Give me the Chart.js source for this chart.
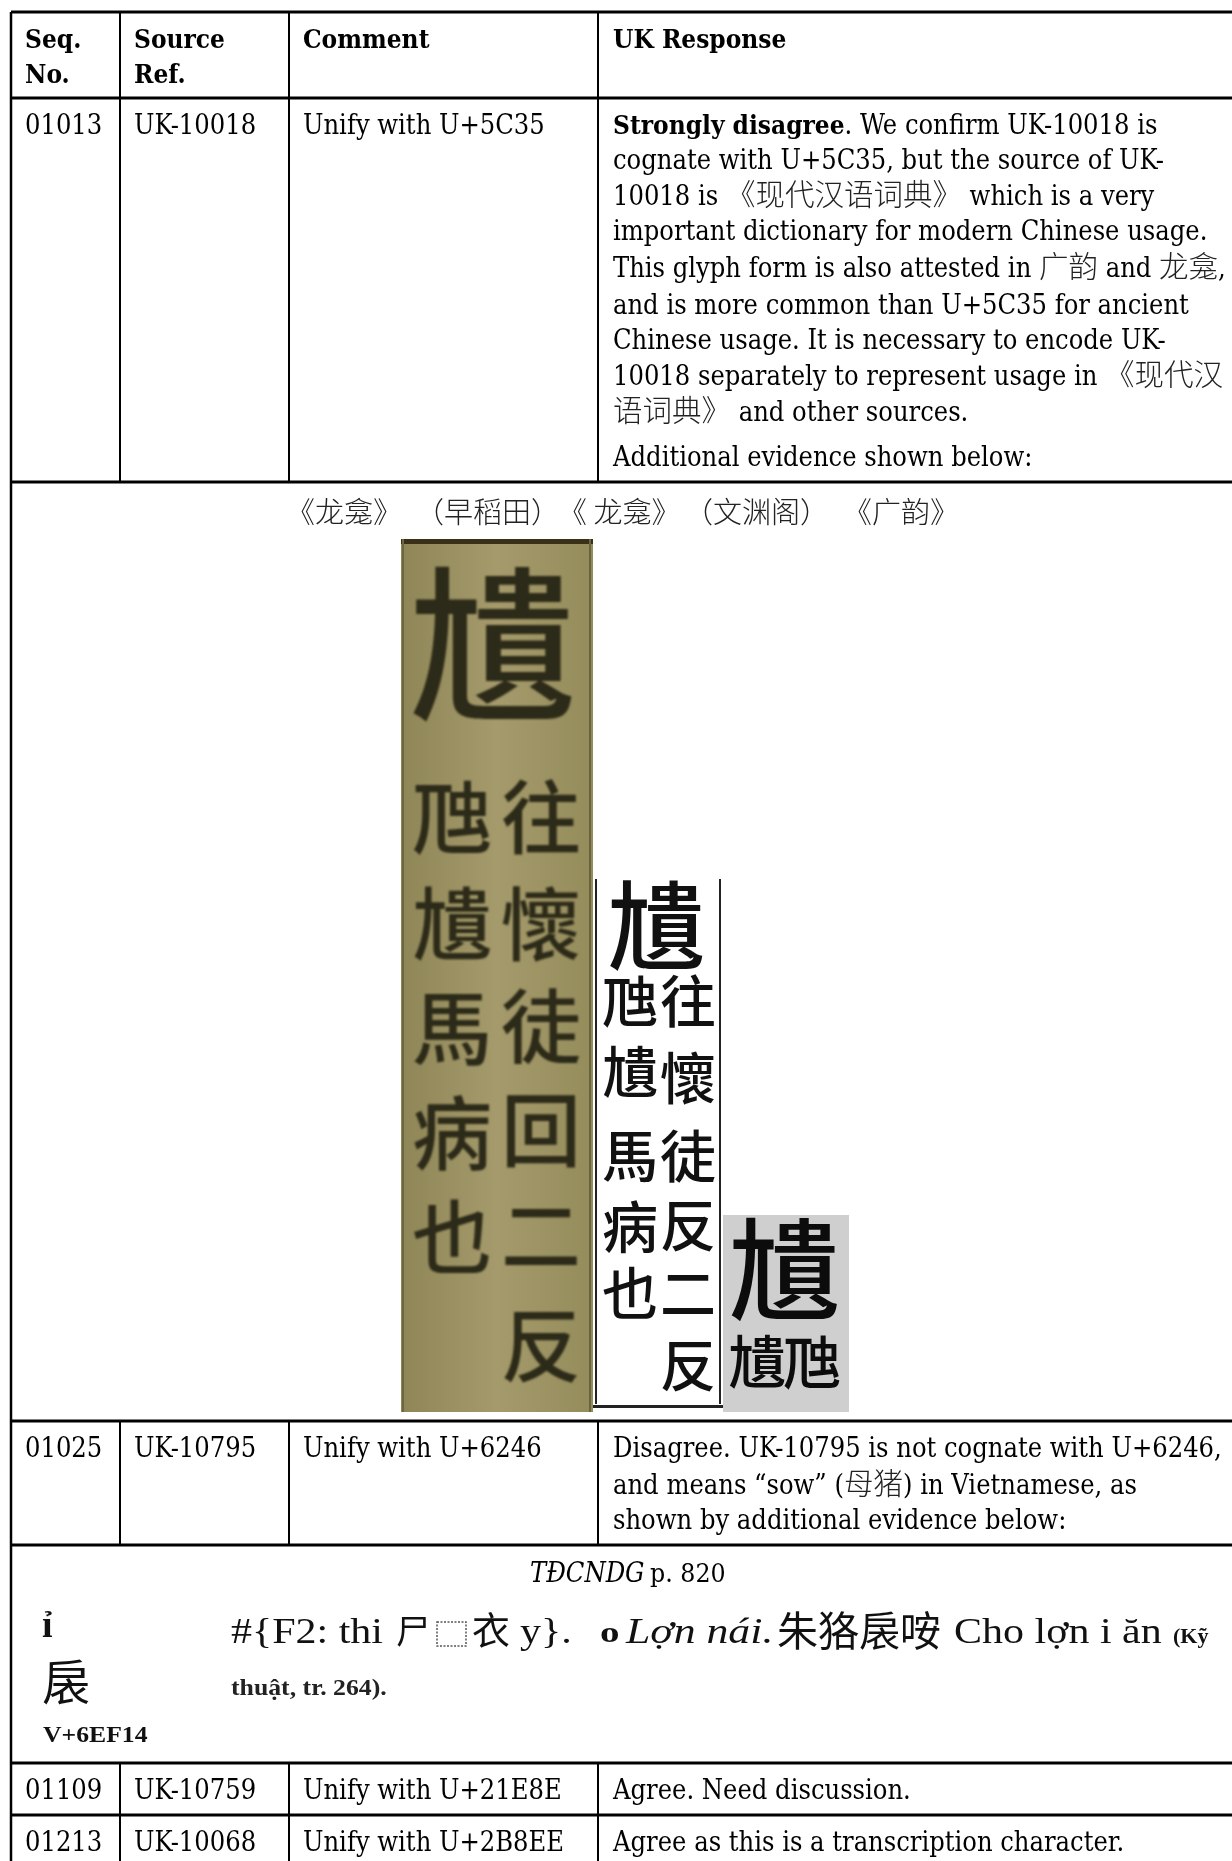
<!DOCTYPE html>
<html>
<head>
<meta charset="utf-8">
<title>UK Response</title>
<script src="https://cdn.jsdelivr.net/npm/chart.js@4"></script>
<style>
    html, body { margin: 0; background: #fff; }
    canvas { display: block; }
</style>
</head>
<body>
<canvas id="sheet" width="1232" height="1861"></canvas>
<script>
// Table text
const headerCols = [['Seq.', 'No.'], ['Source', 'Ref.'], ['Comment'], ['UK Response']];
const seqNos = ['01013', '01025', '01109', '01213'];
const sourceRefs = ['UK-10018', 'UK-10795', 'UK-10759', 'UK-10068'];
const comments = ['Unify with U+5C35', 'Unify with U+6246', 'Unify with U+21E8E', 'Unify with U+2B8EE'];
const boldLead = 'Strongly disagree';
const response1 = [
    'Strongly disagree. We confirm UK-10018 is',
    'cognate with U+5C35, but the source of UK-',
    '10018 is 《现代汉语词典》 which is a very',
    'important dictionary for modern Chinese usage.',
    'This glyph form is also attested in 广韵 and 龙龛,',
    'and is more common than U+5C35 for ancient',
    'Chinese usage. It is necessary to encode UK-',
    '10018 separately to represent usage in 《现代汉',
    '语词典》 and other sources.',
    'Additional evidence shown below:'
];
const response2 = [
    'Disagree. UK-10795 is not cognate with U+6246,',
    'and means “sow” (母猪) in Vietnamese, as',
    'shown by additional evidence below:'
];
const response3 = ['Agree. Need discussion.'];
const response4 = ['Agree as this is a transcription character.'];
const scanCaptions = ['《龙龛》', '（早稻田）', '《 龙龛》', '（文渊阁）', '《广韵》'];
const dictCaption = ['TĐCNDG', ' p. 820'];

// Scanned dictionary entries
const scanHead = '尵';
const scanLeft = ['虺', '尵', '馬', '病', '也'];
const scanRight = ['往', '懷', '徒', '回', '二', '反'];
const scan2Right = ['往', '懷', '徒', '反', '二', '反'];
const scan3Small = ['尵', '虺'];
const entryHead = ['ỉ', '扆', 'V+6EF14'];
const entryRuns = ['#{F2: thi', '尸', '衣', 'y}.', 'o', 'Lợn nái.', '朱狢扆咹', 'Cho lợn i ăn', '(Kỹ'];
const entrySecond = 'thuật, tr. 264).';

// Table grid, in page pixels
const colEdges = [11, 120, 289, 598];
const rowEdges = [12, 98, 482, 1421, 1545, 1763, 1815];
const pageRight = 1232;
const pageBottom = 1861;

const textFont = '"DejaVu Serif Condensed"';
const cjkFont = '"Noto Sans CJK TC"';
const timesFont = '"Liberation Serif", "Noto Sans CJK TC"';

function hRule(y) {
    return [{ x: colEdges[0], y: y }, { x: pageRight, y: y }];
}
function vRule(x, top, bottom) {
    return [{ x: x, y: top }, { x: x, y: bottom }];
}
function ruleSet(points, width) {
    return { data: points, showLine: true, borderColor: '#000', borderWidth: width, pointRadius: 0 };
}

const datasets = rowEdges.map(y => ruleSet(hRule(y), 3));
datasets.push(ruleSet(vRule(colEdges[0], rowEdges[0], pageBottom), 2.5));
[[rowEdges[0], rowEdges[2]], [rowEdges[3], rowEdges[4]], [rowEdges[5], pageBottom]].forEach(span => {
    colEdges.slice(1).forEach(x => datasets.push(ruleSet(vRule(x, span[0], span[1]), 2)));
});

// Draws the table text and the scan blocks, using the chart scales
const sheetPlugin = {
    id: 'sheet',
    beforeDatasetsDraw(chart) {
        const ctx = chart.ctx;
        const sx = chart.scales.x;
        const sy = chart.scales.y;
        const px = v => sx.getPixelForValue(v);
        const py = v => sy.getPixelForValue(v);

        function put(text, x, y, font, color) {
            ctx.font = font;
            ctx.fillStyle = color || '#000';
            ctx.textAlign = 'left';
            ctx.textBaseline = 'alphabetic';
            ctx.fillText(text, px(x), py(y));
            return x + ctx.measureText(text).width;
        }
        // The scan of the dictionary page is wider than it is tall
        function putWide(text, x, y, font, color, stretch) {
            ctx.save();
            ctx.translate(px(x), py(y));
            ctx.scale(stretch, 1);
            ctx.font = font;
            ctx.fillStyle = color;
            ctx.textAlign = 'left';
            ctx.textBaseline = 'alphabetic';
            ctx.fillText(text, 0, 0);
            ctx.restore();
        }
        // Latin at body size, Chinese a little bigger and lighter as in the document
        function putMixed(text, x, y, size) {
            let cursor = x;
            text.split(/([\u3000-\u9fff]+)/).forEach(part => {
                if (!part) return;
                if (/[\u3000-\u9fff]/.test(part)) {
                    cursor = put(part, cursor, y, '300 29.5px "Noto Sans CJK SC"', '#222');
                } else {
                    cursor = put(part, cursor, y, size + 'px ' + textFont);
                }
            });
            return cursor;
        }
        function glyph(text, x, y, size, color, weight) {
            ctx.font = (weight || 500) + ' ' + size + 'px ' + cjkFont;
            ctx.fillStyle = color;
            ctx.textAlign = 'center';
            ctx.textBaseline = 'middle';
            ctx.fillText(text, px(x), py(y));
        }
        function block(x0, y0, x1, y1, fill) {
            ctx.fillStyle = fill;
            ctx.fillRect(px(x0), py(y0), px(x1) - px(x0), py(y1) - py(y0));
        }

        const bodySize = 27;
        const bold = '700 26px ' + textFont;

        // header row
        const colText = [25, 134, 303, 613];
        headerCols.forEach((lines, i) => {
            lines.forEach((t, j) => put(t, colText[i], 48 + j * 35, bold));
        });

        // first three columns of the data rows
        const rowBase = [134, 1457, 1799, 1851];
        seqNos.forEach((t, i) => {
            putMixed(t, colText[0], rowBase[i], bodySize);
            putMixed(sourceRefs[i], colText[1], rowBase[i], bodySize);
            putMixed(comments[i], colText[2], rowBase[i], bodySize);
        });

        // UK response column
        const base1 = [134, 169, 205, 240, 277, 314, 349, 385, 421, 466];
        response1.forEach((t, i) => {
            if (t.startsWith(boldLead)) {
                const end = put(boldLead, colText[3], base1[i], bold);
                putMixed(t.slice(boldLead.length), end, base1[i], bodySize);
            } else {
                putMixed(t, colText[3], base1[i], bodySize);
            }
        });
        const base2 = [1457, 1494, 1529];
        response2.forEach((t, i) => putMixed(t, colText[3], base2[i], bodySize));
        putMixed(response3[0], colText[3], rowBase[2], bodySize);
        putMixed(response4[0], colText[3], rowBase[3], bodySize);

        // captions
        const capX = [286, 415, 558, 684, 843];
        scanCaptions.forEach((t, i) => put(t, capX[i], 523, '300 29px "Noto Sans CJK SC"', '#222'));
        const end = put(dictCaption[0], 530, 1582, 'italic ' + bodySize + 'px ' + textFont);
        put(dictCaption[1], end - 2, 1582, '26.4px ' + textFont);

        // scan 1, aged paper
        const paper = ctx.createLinearGradient(px(401), 0, px(593), 0);
        paper.addColorStop(0, '#8f8658');
        paper.addColorStop(0.5, '#a49a6b');
        paper.addColorStop(1, '#958c5c');
        block(401, 539, 593, 1412, paper);
        block(401, 539, 593, 544, '#3a3018');
        block(402, 539, 404, 1412, '#6d6642');
        block(589, 539, 591, 1412, '#6a6340');
        const ink1 = '#2c2a18';
        ctx.save();
        ctx.filter = 'blur(0.9px)';
        glyph(scanHead, 492, 645, 168, ink1);
        const rows1L = [817, 924, 1028, 1133, 1237];
        const rows1R = [817, 924, 1026, 1130, 1235, 1345];
        scanLeft.forEach((t, i) => glyph(t, 452, rows1L[i], 80, ink1));
        scanRight.forEach((t, i) => glyph(t, 541, rows1R[i], 80, ink1));
        ctx.restore();

        // scan 2, clean print
        block(593, 879, 723, 1408, '#fff');
        block(595, 879, 597, 1404, '#222');
        block(719, 879, 721, 1404, '#222');
        block(593, 1405, 723, 1408, '#222');
        ctx.save();
        ctx.filter = 'blur(0.4px)';
        glyph(scanHead, 656, 926, 98, '#111');
        const rows2L = [1001, 1072, 1156, 1227, 1293];
        const rows2R = [1001, 1078, 1156, 1225, 1293, 1365];
        scanLeft.forEach((t, i) => glyph(t, 630, rows2L[i], 56, '#111'));
        scan2Right.forEach((t, i) => glyph(t, 688, rows2R[i], 56, '#111'));
        ctx.restore();

        // scan 3, grey
        block(723, 1215, 849, 1412, '#cfcfcf');
        ctx.save();
        ctx.filter = 'blur(0.4px)';
        glyph(scanHead, 784, 1270, 112, '#0c0c0c');
        glyph(scan3Small[0], 757, 1362, 58, '#0c0c0c');
        glyph(scan3Small[1], 812, 1362, 58, '#0c0c0c');
        ctx.restore();

        // scanned dictionary entry
        ctx.save();
        ctx.filter = 'blur(0.5px)';
        const ink = '#111';
        const wide = 1.2;
        putWide(entryHead[0], 42, 1637, '700 38px ' + timesFont, ink, 1);
        glyph(entryHead[1], 66, 1682, 48, ink, 400);
        putWide(entryHead[2], 43, 1742, '700 24px ' + timesFont, ink, 1.07);
        putWide(entryRuns[0], 231, 1643, '35px ' + timesFont, ink, wide);
        put(entryRuns[1], 396, 1644, '34px "Noto Sans CJK SC"', ink);
        ctx.strokeStyle = '#555';
        ctx.lineWidth = 1.5;
        ctx.setLineDash([2, 1.5]);
        ctx.strokeRect(px(437), py(1622), px(466) - px(437), py(1646) - py(1622));
        ctx.setLineDash([]);
        put(entryRuns[2], 472, 1644, '38px "Noto Sans CJK SC"', ink);
        putWide(entryRuns[3], 520, 1643, '35px ' + timesFont, ink, wide);
        putWide(entryRuns[4], 600, 1642, '700 30px ' + timesFont, ink, 1.3);
        putWide(entryRuns[5], 626, 1643, 'italic 35px ' + timesFont, ink, 1.25);
        put(entryRuns[6], 777, 1646, '41px ' + cjkFont, ink);
        putWide(entryRuns[7], 954, 1643, '35px ' + timesFont, ink, wide);
        put(entryRuns[8], 1173, 1643, '700 22px ' + timesFont, ink);
        putWide(entrySecond, 231, 1695, '700 23px ' + timesFont, '#222', 1.12);
        ctx.restore();
    }
};

new Chart(document.getElementById('sheet').getContext('2d'), {
    type: 'scatter',
    data: { datasets: datasets },
    options: {
        responsive: false,
        animation: false,
        layout: { padding: 0 },
        plugins: { legend: { display: false }, tooltip: { enabled: false } },
        scales: {
            x: { type: 'linear', min: 0, max: pageRight, display: false },
            y: { type: 'linear', min: 0, max: pageBottom, reverse: true, display: false }
        }
    },
    plugins: [sheetPlugin]
});
</script>
</body>
</html>
